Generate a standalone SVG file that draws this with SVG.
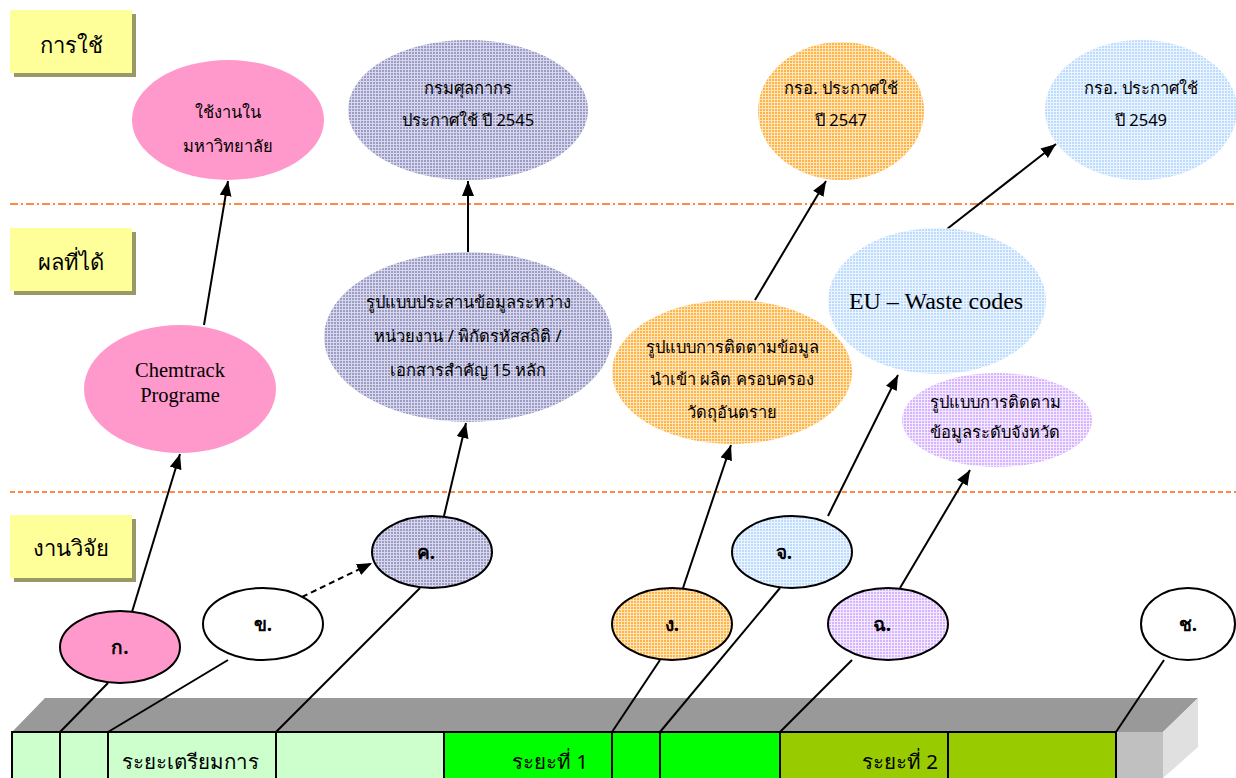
<svg xmlns="http://www.w3.org/2000/svg" width="1236" height="778" viewBox="0 0 1236 778">
<style>
.th{font-family:"Noto Sans","Liberation Sans",sans-serif;fill:#000;text-anchor:middle}
.lbl{font-size:22px}
.el{font-size:16.5px}
.sm{font-size:19px;font-weight:bold}
.tm{font-family:"Liberation Serif",serif;fill:#000;text-anchor:middle}
.cn{stroke:#000;stroke-width:2;fill:none}
.ol{stroke:#000;stroke-width:2}
.cell{stroke:#000;stroke-width:2}
.sep1{stroke:#FF6600;stroke-width:1.5;stroke-dasharray:8 3 2 3}
.sep2{stroke:#FF6600;stroke-width:1.5;stroke-dasharray:5 3}
</style>
<defs>
<marker id="ah" markerUnits="userSpaceOnUse" markerWidth="16" markerHeight="14" refX="15" refY="6" orient="auto">
<path d="M0,0 L15,6 L0,12 z" fill="#000"/>
</marker>
<pattern id="pLav" width="3" height="3" patternUnits="userSpaceOnUse"><rect width="3" height="3" fill="#9C9CC6"/><path d="M0 0.5H3M0.5 0V3" stroke="#D8D8EC" stroke-width="1"/></pattern>
<pattern id="pOr" width="3" height="3" patternUnits="userSpaceOnUse"><rect width="3" height="3" fill="#FFB444"/><path d="M0 0.5H3M0.5 0V3" stroke="#FFE6BE" stroke-width="1"/></pattern>
<pattern id="pBl" width="3" height="3" patternUnits="userSpaceOnUse"><rect width="3" height="3" fill="#BCDCFF"/><path d="M0 0.5H3M0.5 0V3" stroke="#ECF5FF" stroke-width="1"/></pattern>
<pattern id="pPu" width="3" height="3" patternUnits="userSpaceOnUse"><rect width="3" height="3" fill="#D6B4FF"/><path d="M0 0.5H3M0.5 0V3" stroke="#F4EAFF" stroke-width="1"/></pattern>
</defs>
<rect width="1236" height="778" fill="#fff"/>

<g id="separators">
<line class="sep1" x1="10" y1="204" x2="1236" y2="204"/>
<line class="sep2" x1="10" y1="492" x2="1236" y2="492"/>
</g>

<g id="label-use">
<rect x="14" y="14" width="122" height="63" fill="#999966"/>
<rect x="10" y="10" width="122" height="63" fill="#FFFF99"/>
<text class="th lbl" x="71" y="53">การใช้</text>
</g>
<g id="label-result">
<rect x="14" y="232" width="122" height="63" fill="#999966"/>
<rect x="10" y="228" width="122" height="63" fill="#FFFF99"/>
<text class="th lbl" x="71" y="270">ผลที่ได้</text>
</g>
<g id="label-research">
<rect x="14" y="519" width="122" height="63" fill="#999966"/>
<rect x="10" y="515" width="122" height="63" fill="#FFFF99"/>
<text class="th lbl" x="71" y="556">งานวิจัย</text>
</g>

<g id="timeline">
<polygon points="12,732 45,698 1198,698 1163,732" fill="#999999"/>
<polygon points="1163,732 1198,698 1198,747 1163,778" fill="#E0E0E0"/>
<rect x="1116" y="732" width="47" height="46" fill="#C0C0C0"/>
<rect class="cell" x="12" y="732" width="48" height="48" fill="#CCFFCC"/>
<rect class="cell" x="60" y="732" width="48" height="48" fill="#CCFFCC"/>
<rect class="cell" x="108" y="732" width="168" height="48" fill="#CCFFCC"/>
<rect class="cell" x="276" y="732" width="168" height="48" fill="#CCFFCC"/>
<rect class="cell" x="444" y="732" width="168" height="48" fill="#00FF00"/>
<rect class="cell" x="612" y="732" width="48" height="48" fill="#00FF00"/>
<rect class="cell" x="660" y="732" width="120" height="48" fill="#00FF00"/>
<rect class="cell" x="780" y="732" width="168" height="48" fill="#99CC00"/>
<rect class="cell" x="948" y="732" width="168" height="48" fill="#99CC00"/>
<text class="th" font-size="20.5" x="190" y="769">ระยะเตรียมการ</text>
<text class="th" font-size="20.5" x="550" y="769">ระยะที่ 1</text>
<text class="th" font-size="20.5" x="900" y="769">ระยะที่ 2</text>
</g>

<g id="connectors">
<line class="cn" x1="60" y1="732" x2="108" y2="683"/>
<line class="cn" x1="108" y1="732" x2="228" y2="660"/>
<line class="cn" x1="276" y1="732" x2="420" y2="588"/>
<line class="cn" x1="612" y1="732" x2="660" y2="660"/>
<line class="cn" x1="660" y1="732" x2="780" y2="588"/>
<line class="cn" x1="780" y1="732" x2="852" y2="660"/>
<line class="cn" x1="1116" y1="732" x2="1164" y2="660"/>
<line class="cn" x1="132" y1="612" x2="180" y2="454" marker-end="url(#ah)"/>
<line class="cn" x1="204" y1="325" x2="228" y2="181" marker-end="url(#ah)"/>
<line class="cn" x1="302" y1="597" x2="372" y2="563" stroke-dasharray="6 4" marker-end="url(#ah)"/>
<line class="cn" x1="444" y1="516" x2="466" y2="423" marker-end="url(#ah)"/>
<line class="cn" x1="468" y1="252" x2="468" y2="181" marker-end="url(#ah)"/>
<line class="cn" x1="683" y1="588" x2="731" y2="445" marker-end="url(#ah)"/>
<line class="cn" x1="755" y1="300" x2="826" y2="181" marker-end="url(#ah)"/>
<line class="cn" x1="828" y1="516" x2="898" y2="375" marker-end="url(#ah)"/>
<line class="cn" x1="947" y1="229" x2="1056" y2="144" marker-end="url(#ah)"/>
<line class="cn" x1="900" y1="588" x2="970" y2="470" marker-end="url(#ah)"/>
</g>

<g id="use-university">
<ellipse cx="228" cy="120" rx="96" ry="60" fill="#FF99CC"/>
<text class="th el" x="228" y="118">ใช้งานใน</text>
<text class="th el" x="228" y="152">มหาวิทยาลัย</text>
</g>
<g id="use-customs">
<ellipse cx="468" cy="110" rx="120" ry="70" fill="url(#pLav)"/>
<text class="th el" x="468" y="94">กรมศุลกากร</text>
<text class="th el" x="468" y="126">ประกาศใช้ ปี 2545</text>
</g>
<g id="use-2547">
<ellipse cx="841" cy="111" rx="83" ry="69" fill="url(#pOr)"/>
<text class="th el" x="841" y="94">กรอ. ประกาศใช้</text>
<text class="th el" x="841" y="126">ปี 2547</text>
</g>
<g id="use-2549">
<ellipse cx="1141" cy="110" rx="96" ry="70" fill="url(#pBl)"/>
<text class="th el" x="1141" y="94">กรอ. ประกาศใช้</text>
<text class="th el" x="1141" y="126">ปี 2549</text>
</g>

<g id="result-chemtrack">
<ellipse cx="180" cy="389" rx="96" ry="64" fill="#FF99CC"/>
<text class="tm" font-size="20.5" x="180" y="377">Chemtrack</text>
<text class="tm" font-size="20.5" x="180" y="402">Programe</text>
</g>
<g id="result-coordination">
<ellipse cx="468" cy="337" rx="144" ry="85" fill="url(#pLav)"/>
<text class="th el" x="468" y="308">รูปแบบประสานข้อมูลระหว่าง</text>
<text class="th el" x="468" y="342">หน่วยงาน / พิกัดรหัสสถิติ /</text>
<text class="th el" x="468" y="376">เอกสารสำคัญ 15 หลัก</text>
</g>
<g id="result-tracking">
<ellipse cx="732" cy="372" rx="120" ry="72" fill="url(#pOr)"/>
<text class="th el" x="732" y="353">รูปแบบการติดตามข้อมูล</text>
<text class="th el" x="732" y="385">นำเข้า ผลิต ครอบครอง</text>
<text class="th el" x="732" y="418">วัดถุอันตราย</text>
</g>
<g id="result-eu">
<ellipse cx="937" cy="301" rx="109" ry="73" fill="url(#pBl)"/>
<text class="tm" font-size="24" x="936" y="309">EU – Waste codes</text>
</g>
<g id="result-province">
<ellipse cx="997" cy="420" rx="95" ry="47" fill="url(#pPu)"/>
<text class="th el" x="995" y="408">รูปแบบการติดตาม</text>
<text class="th el" x="995" y="438">ข้อมูลระดับจังหวัด</text>
</g>

<g id="research-ko">
<ellipse class="ol" cx="120" cy="647" rx="60" ry="36" fill="#FF99CC"/>
<text class="th sm" x="120" y="654">ก.</text>
</g>
<g id="research-kho">
<ellipse class="ol" cx="263" cy="624" rx="60" ry="36" fill="#fff"/>
<text class="th sm" x="263" y="631">ข.</text>
</g>
<g id="research-kho-khwai">
<ellipse class="ol" cx="432" cy="552" rx="60" ry="36" fill="url(#pLav)"/>
<text class="th sm" x="426" y="559">ค.</text>
</g>
<g id="research-ngo">
<ellipse class="ol" cx="672" cy="624" rx="60" ry="36" fill="url(#pOr)"/>
<text class="th sm" x="672" y="631">ง.</text>
</g>
<g id="research-cho">
<ellipse class="ol" cx="792" cy="552" rx="60" ry="36" fill="url(#pBl)"/>
<text class="th sm" x="784" y="559">จ.</text>
</g>
<g id="research-chi">
<ellipse class="ol" cx="888" cy="624" rx="60" ry="36" fill="url(#pPu)"/>
<text class="th sm" x="882" y="631">ฉ.</text>
</g>
<g id="research-cho-chang">
<ellipse class="ol" cx="1188" cy="624" rx="47" ry="36" fill="#fff"/>
<text class="th sm" x="1188" y="631">ช.</text>
</g>
</svg>
